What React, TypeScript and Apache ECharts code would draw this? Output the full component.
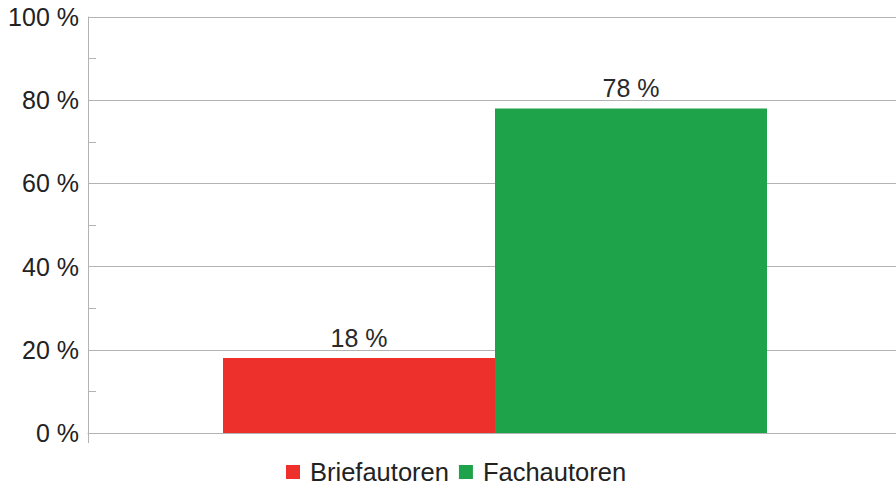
import React, { useEffect, useRef } from "react";
import * as echarts from "echarts";

const categories = [""];
const seriesNames = ["Briefautoren", "Fachautoren"];
const briefValues = [18];
const fachValues = [78];
const colors = ["#EE302D", "#1FA34A"];

export default function App() {
  const ref = useRef<HTMLDivElement>(null);
  useEffect(() => {
    if (!ref.current) return;
    const chart = echarts.init(ref.current, null, { renderer: "svg" });
    const font = "Liberation Sans";
    const label = {
      show: true,
      position: "top",
      distance: 8,
      formatter: "{c} %",
      fontFamily: font,
      fontSize: 25,
      color: "#2a2a2a",
    };
    chart.setOption({
      animation: false,
      grid: { left: 88, right: 0, top: 17, bottom: 52, containLabel: false },
      legend: {
        data: seriesNames,
        left: 286,
        top: 459,
        padding: 0,
        icon: "rect",
        itemWidth: 14,
        itemHeight: 14,
        itemGap: 10,
        textStyle: { fontFamily: font, fontSize: 25.5, color: "#222", padding: [0, 0, 0, 5] },
      },
      xAxis: {
        type: "category",
        data: categories,
        axisLine: { show: true, lineStyle: { color: "#b3b3b3", width: 1 } },
        axisTick: { show: true, length: 10, lineStyle: { color: "#b3b3b3" } },
        axisLabel: { show: false },
      },
      yAxis: {
        type: "value",
        min: 0,
        max: 100,
        interval: 20,
        axisLine: { show: true, lineStyle: { color: "#b3b3b3", width: 1 } },
        axisTick: { show: true, inside: true, length: 10, lineStyle: { color: "#b3b3b3" } },
        minorTick: { show: true, splitNumber: 2, length: 8, lineStyle: { color: "#b3b3b3" } },
        splitLine: { show: true, lineStyle: { color: "#b3b3b3", width: 1 } },
        axisLabel: {
          formatter: "{value} %",
          fontFamily: font,
          fontSize: 25,
          color: "#222",
          margin: 9,
        },
      },
      series: [
        {
          name: seriesNames[0],
          type: "bar",
          data: briefValues,
          barWidth: 272,
          barGap: "0%",
          itemStyle: { color: colors[0] },
          label,
        },
        {
          name: seriesNames[1],
          type: "bar",
          data: fachValues,
          barWidth: 272,
          barGap: "0%",
          itemStyle: { color: colors[1] },
          label,
        },
      ],
    });
    return () => chart.dispose();
  }, []);
  return (
    <div style={{ width: 896, height: 485, position: "absolute", left: 0, top: 0, overflow: "hidden" }}>
      <div ref={ref} style={{ width: 902, height: 485 }} />
    </div>
  );
}
